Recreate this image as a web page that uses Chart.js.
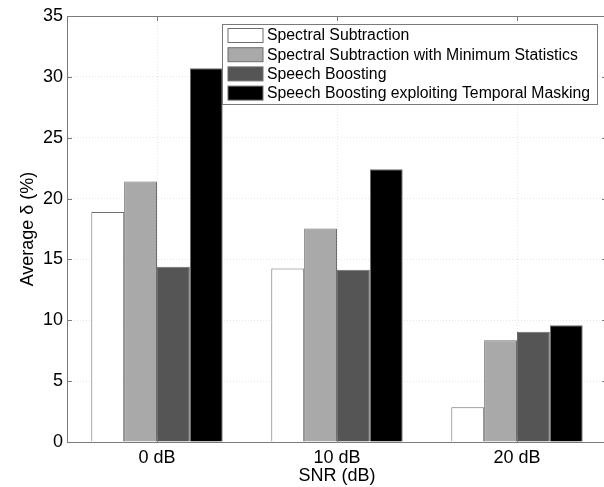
<!DOCTYPE html>
<html>
<head>
<meta charset="utf-8">
<script src="https://cdn.jsdelivr.net/npm/chart.js@4"></script>
<style>
    html, body { margin: 0; padding: 0; background: #fff; overflow: hidden; }
    canvas { display: block; }
</style>
</head>
<body>
<canvas id="snrChart" width="612" height="487"></canvas>
<script>
// categories and series (Average delta in %)
const snrLabels = ['0 dB', '10 dB', '20 dB'];
const spectralSubtraction = [18.9, 14.25, 2.85];
const spectralMinStats = [21.4, 17.55, 8.35];
const speechBoosting = [14.4, 14.15, 9.05];
const speechBoostingMasking = [30.7, 22.4, 9.6];
const yTicks = [0, 5, 10, 15, 20, 25, 30, 35];

const FONT = '"Liberation Sans", Arial, sans-serif';
const edgeColor = '#6e6e6e';

// draws the box, the inward tick marks and the legend, MATLAB style
const matlabFrame = {
    id: 'matlabFrame',
    afterDatasetsDraw(chart) {
        const ctx = chart.ctx;
        const area = chart.chartArea;
        const xScale = chart.scales.x;
        const yScale = chart.scales.y;

        ctx.save();
        ctx.strokeStyle = '#7a7a7a';
        ctx.lineWidth = 1;

        // top and right side of the box
        ctx.beginPath();
        ctx.moveTo(area.left, area.top + 0.5);
        ctx.lineTo(area.right, area.top + 0.5);
        ctx.moveTo(area.right - 0.5, area.top);
        ctx.lineTo(area.right - 0.5, area.bottom);
        ctx.stroke();

        // inward ticks
        ctx.beginPath();
        yTicks.forEach(v => {
            const y = Math.round(yScale.getPixelForValue(v)) + 0.5;
            ctx.moveTo(area.left, y);
            ctx.lineTo(area.left + 5, y);
            ctx.moveTo(area.right, y);
            ctx.lineTo(area.right - 5, y);
        });
        snrLabels.forEach((_, i) => {
            const x = Math.round(xScale.getPixelForValue(i)) + 0.5;
            ctx.moveTo(x, area.bottom);
            ctx.lineTo(x, area.bottom - 5);
            ctx.moveTo(x, area.top);
            ctx.lineTo(x, area.top + 5);
        });
        ctx.stroke();

        // legend
        const box = { x: 222.5, y: 24.5, w: 375, h: 80 };
        ctx.fillStyle = '#ffffff';
        ctx.fillRect(box.x, box.y, box.w, box.h);
        ctx.strokeStyle = '#7a7a7a';
        ctx.strokeRect(box.x, box.y, box.w, box.h);

        ctx.font = '15.8px ' + FONT;
        ctx.textBaseline = 'middle';
        ctx.textAlign = 'left';
        chart.data.datasets.forEach((ds, i) => {
            const rowTop = 28.5 + i * 19.2;
            ctx.fillStyle = ds.backgroundColor;
            ctx.fillRect(228, rowTop, 35, 14);
            ctx.strokeStyle = ds.borderColor;
            ctx.strokeRect(228, rowTop, 35, 14);
            ctx.fillStyle = '#000000';
            ctx.fillText(ds.label, 267, rowTop + 7.5);
        });
        ctx.restore();
    }
};

const ctx = document.getElementById('snrChart').getContext('2d');

new Chart(ctx, {
    type: 'bar',
    data: {
        labels: snrLabels,
        datasets: [
            { label: 'Spectral Subtraction', data: spectralSubtraction, backgroundColor: '#ffffff', borderColor: edgeColor },
            { label: 'Spectral Subtraction with Minimum Statistics', data: spectralMinStats, backgroundColor: '#a9a9a9', borderColor: edgeColor },
            { label: 'Speech Boosting', data: speechBoosting, backgroundColor: '#555555', borderColor: edgeColor },
            { label: 'Speech Boosting exploiting Temporal Masking', data: speechBoostingMasking, backgroundColor: '#000000', borderColor: edgeColor },
        ],
    },
    options: {
        responsive: false,
        animation: false,
        layout: { padding: { top: 16, right: 5, left: 0, bottom: 0 } },
        datasets: {
            bar: { borderWidth: 1, categoryPercentage: 0.73, barPercentage: 1 }
        },
        plugins: {
            legend: { display: false },
            tooltip: { enabled: false },
        },
        scales: {
            x: {
                grid: { offset: false, color: '#e6e6e6', drawTicks: false },
                border: { color: '#7a7a7a', dash: [1, 2] },
                ticks: { color: '#000', font: { family: FONT, size: 18 }, padding: 5 },
                title: { display: true, text: 'SNR (dB)', color: '#000', font: { family: FONT, size: 18 }, padding: 0 },
                afterFit(scale) { scale.height = 45; },
            },
            y: {
                min: 0,
                max: 35,
                ticks: { stepSize: 5, color: '#000', font: { family: FONT, size: 18 }, padding: 4 },
                grid: { color: '#e6e6e6', drawTicks: false },
                border: { color: '#7a7a7a', dash: [1, 2] },
                title: { display: true, text: 'Average δ (%)', color: '#000', font: { family: FONT, size: 18 }, padding: { top: 17, bottom: 0 } },
                afterFit(scale) { scale.width = 67; },
            },
        },
    },
    plugins: [matlabFrame],
});
</script>
</body>
</html>
